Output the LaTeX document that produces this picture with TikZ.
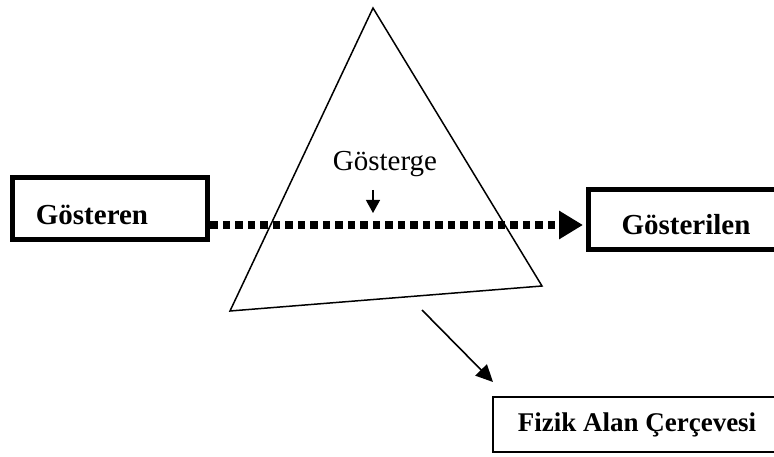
\documentclass[tikz,border=0pt]{standalone}
\usepackage{fontspec}
\setmainfont{Liberation Serif}
\usetikzlibrary{arrows.meta}
\tikzset{
  thickbox/.style={draw, line width=5.5pt, inner sep=0pt},
  thinbox/.style={draw, line width=1.6pt, inner sep=0pt},
  boldlbl/.style={font=\fontsize{29}{34}\selectfont\bfseries, inner sep=0pt},
  plainlbl/.style={font=\fontsize{29}{34}\selectfont, inner sep=0pt},
}
\begin{document}
\begin{tikzpicture}[x=1pt,y=-1pt]
\useasboundingbox (0,0) rectangle (774,457);
\clip (0,0) rectangle (774,457);
% triangle
\coordinate (apex) at (373,8);
\coordinate (bl) at (230,311);
\coordinate (br) at (542,286);
\draw[line width=1.5pt, line join=miter] (apex) -- (bl) -- (br) -- cycle;
% boxes
\node[thickbox, minimum width=195pt, minimum height=62pt] (gosteren) at (110,208.5) {};
\node[boldlbl] at (92,215) {Gösteren};
\node[thickbox, minimum width=201pt, minimum height=60pt] (gosterilen) at (689,219.5) {};
\node[boldlbl] at (686,225) {Gösterilen};
\node[thinbox, minimum width=307pt, minimum height=55pt] (fizik) at (646.5,424.5) {};
\node[boldlbl, font=\fontsize{27}{32}\selectfont\bfseries] at (637,425) {Fizik Alan Çerçevesi};
% Gösterge
\node[plainlbl] (gosterge) at (385,164) {Gösterge};
\coordinate (gs) at (373,190);
\coordinate (ge) at (373,213);
\draw[line width=1.3pt, -{Triangle[length=13pt,width=14pt]}] (gs) -- (ge);
% dotted arrow
\coordinate (mid) at (0,225);
\draw[line width=7.5pt, dash pattern=on 7.5pt off 5pt, -{Triangle[length=24pt,width=27pt]}]
  (gosteren.east |- mid) -- ([xshift=-2.75pt]gosterilen.west |- mid);
% arrow to Fizik
\coordinate (fs) at (422,310);
\coordinate (fe) at (493,382);
\draw[line width=1.6pt, -{Triangle[length=17pt,width=16pt]}] (fs) -- (fe);
\end{tikzpicture}
\end{document}
